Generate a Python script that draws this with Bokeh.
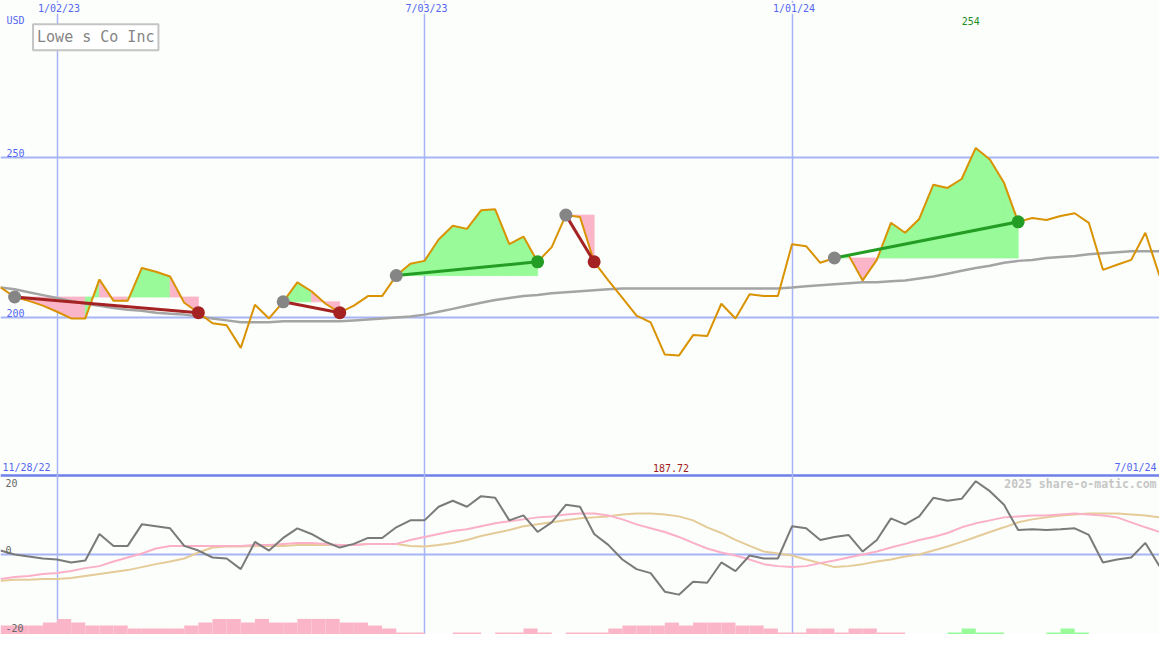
import numpy as np
import pandas as pd
from bokeh.plotting import figure
from bokeh.models import Range1d, Label
from bokeh.embed import file_html
from bokeh.resources import INLINE

# ---------------- data ----------------
weeks = pd.date_range("2022-12-05", periods=83, freq="7D")

price = [209.4, 206.4, 205.2, 203.7, 201.8, 199.7, 199.7, 211.9, 205.2, 205.2,
         215.5, 214.3, 212.8, 204.6, 201.5, 198.2, 197.6, 190.5, 204.0, 199.7,
         204.9, 211.0, 208.2, 204.3, 201.5, 203.7, 206.7, 206.7, 213.1, 216.8,
         217.7, 224.4, 228.7, 227.7, 233.5, 233.8, 222.9, 225.3, 217.4, 222.0,
         232.0, 231.4, 217.4, 211.6, 206.1, 200.6, 198.5, 188.4, 188.1, 194.5,
         194.2, 204.3, 199.7, 207.3, 206.7, 206.7, 222.9, 222.3, 217.1, 218.6,
         219.5, 211.6, 218.0, 229.6, 226.5, 230.8, 241.5, 240.5, 243.3, 253.0,
         249.4, 242.1, 229.9, 231.1, 230.5, 231.7, 232.6, 229.6, 214.9, 216.5,
         218.0, 226.5, 213.1]

ma_long = [209.4, 208.8, 207.9, 207.0, 206.1, 205.2, 204.3, 203.7, 203.0, 202.4,
           202.1, 201.5, 201.2, 200.9, 200.3, 199.7, 199.1, 198.5, 198.5, 198.5,
           198.8, 198.8, 198.8, 198.8, 198.8, 199.1, 199.4, 199.7, 200.0, 200.3,
           200.9, 201.8, 202.7, 203.7, 204.6, 205.5, 206.1, 206.7, 207.0, 207.6,
           207.9, 208.2, 208.5, 208.8, 209.1, 209.1, 209.1, 209.1, 209.1, 209.1,
           209.1, 209.1, 209.1, 209.1, 209.1, 209.1, 209.4, 209.8, 210.1, 210.4,
           210.7, 211.0, 211.0, 211.3, 211.6, 212.2, 212.8, 213.7, 214.6, 215.5,
           216.2, 217.1, 217.7, 218.0, 218.6, 218.9, 219.2, 219.8, 220.1, 220.4,
           220.7, 220.7, 220.7]

period_high = 254.0
period_low = 187.72

osc = [1.2, 0.0, -0.6, -1.2, -1.5, -2.4, -1.8, 6.2, 2.6, 2.6,
       9.1, 8.5, 7.9, 2.6, 1.2, -0.9, -1.2, -4.4, 3.8, 1.2,
       5.0, 7.9, 6.2, 3.8, 2.1, 3.2, 5.0, 5.0, 8.2, 10.3,
       10.3, 14.4, 16.2, 14.4, 17.6, 17.1, 10.3, 11.8, 6.8, 9.7,
       15.0, 14.4, 6.2, 2.9, -1.5, -4.4, -5.6, -11.2, -12.1, -8.2,
       -8.5, -2.4, -5.0, -0.3, -1.2, -1.2, 8.5, 7.9, 4.4, 5.3,
       5.9, 0.9, 4.4, 10.9, 9.1, 11.5, 17.1, 16.2, 16.8, 22.1,
       19.1, 15.0, 7.4, 7.6, 7.4, 7.6, 7.9, 5.9, -2.4, -1.5,
       -0.9, 3.5, -3.5]

osc_fast = [-7.4, -6.8, -6.5, -5.9, -5.6, -5.0, -4.1, -3.5, -2.1, -0.9,
            0.3, 1.8, 2.6, 2.6, 2.6, 2.6, 2.6, 2.6, 2.9, 2.9,
            3.2, 3.5, 3.5, 3.2, 2.9, 2.9, 3.2, 3.2, 3.2, 4.4,
            5.3, 6.2, 7.1, 7.6, 8.5, 9.4, 10.0, 10.6, 11.2, 11.5,
            12.1, 12.4, 12.4, 11.8, 10.6, 9.1, 7.9, 6.8, 5.3, 3.5,
            1.8, 0.6, -0.3, -1.5, -2.9, -3.5, -3.8, -3.5, -2.6, -1.8,
            -0.9, 0.0, 0.9, 2.1, 3.2, 4.4, 5.3, 6.5, 8.2, 9.4,
            10.3, 11.2, 11.5, 11.8, 11.8, 12.1, 12.4, 12.1, 11.8, 11.2,
            9.7, 8.2, 6.8]

osc_slow = [-7.9, -7.6, -7.6, -7.4, -7.4, -7.1, -6.5, -5.9, -5.3, -4.7,
            -3.8, -2.9, -2.1, -1.2, 0.6, 2.1, 2.4, 2.4, 2.6, 2.6,
            2.6, 2.9, 2.9, 2.9, 2.9, 2.9, 3.2, 3.2, 3.2, 2.6,
            2.4, 2.9, 3.5, 4.4, 5.6, 6.5, 7.4, 8.5, 9.1, 9.7,
            10.3, 10.9, 11.2, 11.5, 12.1, 12.4, 12.4, 12.1, 11.5, 10.3,
            8.2, 6.5, 4.4, 2.6, 0.9, 0.3, -0.3, -1.5, -2.6, -3.8,
            -3.5, -2.9, -2.1, -1.5, -0.6, 0.0, 1.2, 2.4, 3.8, 5.3,
            6.8, 8.2, 9.7, 10.6, 11.2, 11.8, 12.1, 12.4, 12.4, 12.4,
            12.1, 11.8, 11.2]

strength = [-2.7, -2.7, -2.7, -3.6, -4.7, -3.6, -2.7, -2.7, -2.7, -1.8,
            -1.8, -1.8, -1.8, -2.7, -3.6, -4.7, -4.7, -3.6, -4.7, -3.6,
            -3.6, -4.7, -4.7, -4.7, -3.6, -3.6, -2.7, -1.8, -0.6, -0.6,
            0, 0, -0.6, -0.6, 0, -0.6, -0.6, -1.8, -0.6, 0,
            -0.6, -0.6, -0.6, -1.8, -2.7, -2.7, -2.7, -3.6, -2.7, -3.6,
            -3.6, -3.6, -2.7, -2.7, -1.8, -0.6, -0.6, -1.8, -1.8, -0.6,
            -1.8, -1.8, -0.6, -0.6, 0, 0, 0, 0.6, 1.8, 0.6,
            0.6, 0, 0, 0, 0.6, 1.8, 0.6, 0, 0, 0,
            0, 0, 0]

trade_entry = ["2022-12-12", "2023-04-24", "2023-06-19", "2023-09-11", "2024-01-22"]
trade_exit = ["2023-03-13", "2023-05-22", "2023-08-28", "2023-09-25", "2024-04-22"]

date_ticks = ["2023-01-02", "2023-07-03", "2024-01-01"]
date_tick_labels = ["1/02/23", "7/03/23", "1/01/24"]
price_ticks = [250, 200]
osc_ticks = [20, 0, -20]
start_label = "11/28/22"
end_label = "7/01/24"
title = "Lowe s Co Inc"
currency = "USD"
credit = "2025 share-o-matic.com"

# ---------------- layout constants ----------------
W, H = 1159, 634
RW, RH = 1175, 650            # reference frame in px
PX_PRICE, Y200 = 3.28, 325    # px per price unit, ref y of 200
PX_OSC, Y0 = 3.4, 568         # px per osc unit, ref y of osc 0

BG = "#fbfefb"
BLUE_TXT = "#5566f0"
GRID = "#a7b4f5"
SEP = "#6f7fe8"
ORANGE = "#d99200"
PINK = "#fbb5c8"
GREEN = "#98fa98"
RED = "#a52222"
DKGREEN = "#239d23"
FONT = "DejaVu Sans Mono"

tms = [(t - pd.Timestamp("1970-01-01")) // pd.Timedelta(milliseconds=1) for t in weeks]
week_ms = 7 * 24 * 3600 * 1000
X0, X1 = tms[0], tms[-1]


def xr(xpx):
    return X0 + xpx / RW * (X1 - X0)


def py(ypx):
    return 200 + (Y200 - ypx) / PX_PRICE


def to_ms(s):
    return (pd.Timestamp(s) - pd.Timestamp("1970-01-01")) // pd.Timedelta(milliseconds=1)


p = figure(width=W, height=H, x_range=Range1d(X0, X1),
           y_range=Range1d(py(RH), py(0)),
           x_axis_location=None, y_axis_location=None,
           output_backend="svg", toolbar_location=None, min_border=0,
           background_fill_color=BG, border_fill_color=BG, outline_line_color=None)
p.grid.visible = False
p.extra_y_ranges = {
    "osc": Range1d((Y0 - RH) / PX_OSC, Y0 / PX_OSC),
    "bars": Range1d(0, RH / PX_OSC),
}

# ---------------- grid lines ----------------
p.hspan(y=price_ticks, line_color=GRID, line_width=2)
p.hspan(y=[0], line_color=GRID, line_width=2, y_range_name="osc")
p.hspan(y=[(Y0 - 487) / PX_OSC], line_color=SEP, line_width=2.5, y_range_name="osc")
p.vspan(x=[to_ms(d) for d in date_ticks], line_color=GRID, line_width=1.5)

# ---------------- trade fills ----------------
idx = {t: i for i, t in enumerate(tms)}
ent_i = [idx[to_ms(d)] for d in trade_entry]
ext_i = [idx[to_ms(d)] for d in trade_exit]
fxs, fys, fcs = [], [], []
for e, x in zip(ent_i, ext_i):
    level = price[e]
    for i in range(e, x):
        fxs.append([tms[i], tms[i], tms[i + 1], tms[i + 1]])
        fys.append([level, price[i], price[i + 1], level])
        fcs.append(GREEN if price[i + 1] > level else PINK)
p.patches(fxs, fys, fill_color=fcs, line_color=fcs, line_width=0.8)

# ---------------- price panel lines ----------------
p.line(tms, ma_long, line_color="#a4a4a4", line_width=2.5)
p.line(tms, price, line_color=ORANGE, line_width=2)

tcol = [DKGREEN if price[x] > price[e] else RED for e, x in zip(ent_i, ext_i)]
p.segment([tms[e] for e in ent_i], [price[e] for e in ent_i],
          [tms[x] for x in ext_i], [price[x] for x in ext_i],
          line_color=tcol, line_width=3)
p.scatter([tms[e] for e in ent_i], [price[e] for e in ent_i], size=13,
          fill_color="#858585", line_color=None)
p.scatter([tms[x] for x in ext_i], [price[x] for x in ext_i], size=13,
          fill_color=tcol, line_color=None)

# ---------------- oscillator panel ----------------
bl = [tms[i] for i, s in enumerate(strength) if s != 0]
br = [tms[i] + week_ms for i, s in enumerate(strength) if s != 0]
bt = [abs(s) for s in strength if s != 0]
bc = [GREEN if s > 0 else PINK for s in strength if s != 0]
p.quad(left=bl, right=br, bottom=0, top=bt, fill_color=bc, line_color=None,
       y_range_name="bars")

p.line(tms, osc_slow, line_color="#e5cb98", line_width=2, y_range_name="osc")
p.line(tms, osc_fast, line_color="#fbb0c8", line_width=2, y_range_name="osc")
p.line(tms, osc, line_color="#7a7a7a", line_width=2, y_range_name="osc")

# ---------------- texts ----------------
def lab(**kw):
    base = dict(text_font=FONT, text_font_size="10px", text_color=BLUE_TXT)
    base.update(kw)
    p.add_layout(Label(**base))


for d, t in zip(date_ticks, date_tick_labels):
    lab(x=to_ms(d), y=py(8), text=t, text_align="center", text_baseline="middle",
        x_offset=2, background_fill_color=BG)
lab(x=xr(6), y=py(21), text=currency, text_baseline="middle")
for v in price_ticks:
    lab(x=xr(6), y=v, text=str(v), text_baseline="bottom", y_offset=1)
lab(x=xr(2), y=py(479), text=start_label, text_baseline="middle")
lab(x=xr(1172), y=py(479), text=end_label, text_baseline="middle", text_align="right")


def fmt(v):
    return f"{v:.2f}".rstrip("0").rstrip(".")


imax = int(np.argmax(price))
imin = int(np.argmin(price))
lab(x=tms[imax], y=py(21), text=fmt(period_high), text_align="center",
    text_baseline="middle", x_offset=-5, text_color="#1f8f1f")
lab(x=tms[imin], y=py(479), text=fmt(period_low), text_align="center",
    text_baseline="middle", x_offset=-8, text_color="#a01c1c")

for v in osc_ticks:
    if v < 0:
        lab(x=xr(5), y=v, text=str(v), text_baseline="top", y_offset=-3,
            y_range_name="osc", text_color="#666666")
    else:
        lab(x=xr(5), y=v, text=str(v), text_baseline="bottom", y_offset=1,
            y_range_name="osc", text_color="#666666")

lab(x=xr(1172), y=py(496), text=credit, text_align="right", text_baseline="middle",
    text_color="#c6c6c6", text_font_size="11.5px", text_font_style="bold")

lab(x=xr(33), y=py(51), text=title, text_font_size="15px", text_color="#858585",
    text_baseline="bottom", background_fill_color="white",
    border_line_color="#c4c4c4", border_line_width=2, padding=4)

open("out.html", "w").write(file_html(p, INLINE))
